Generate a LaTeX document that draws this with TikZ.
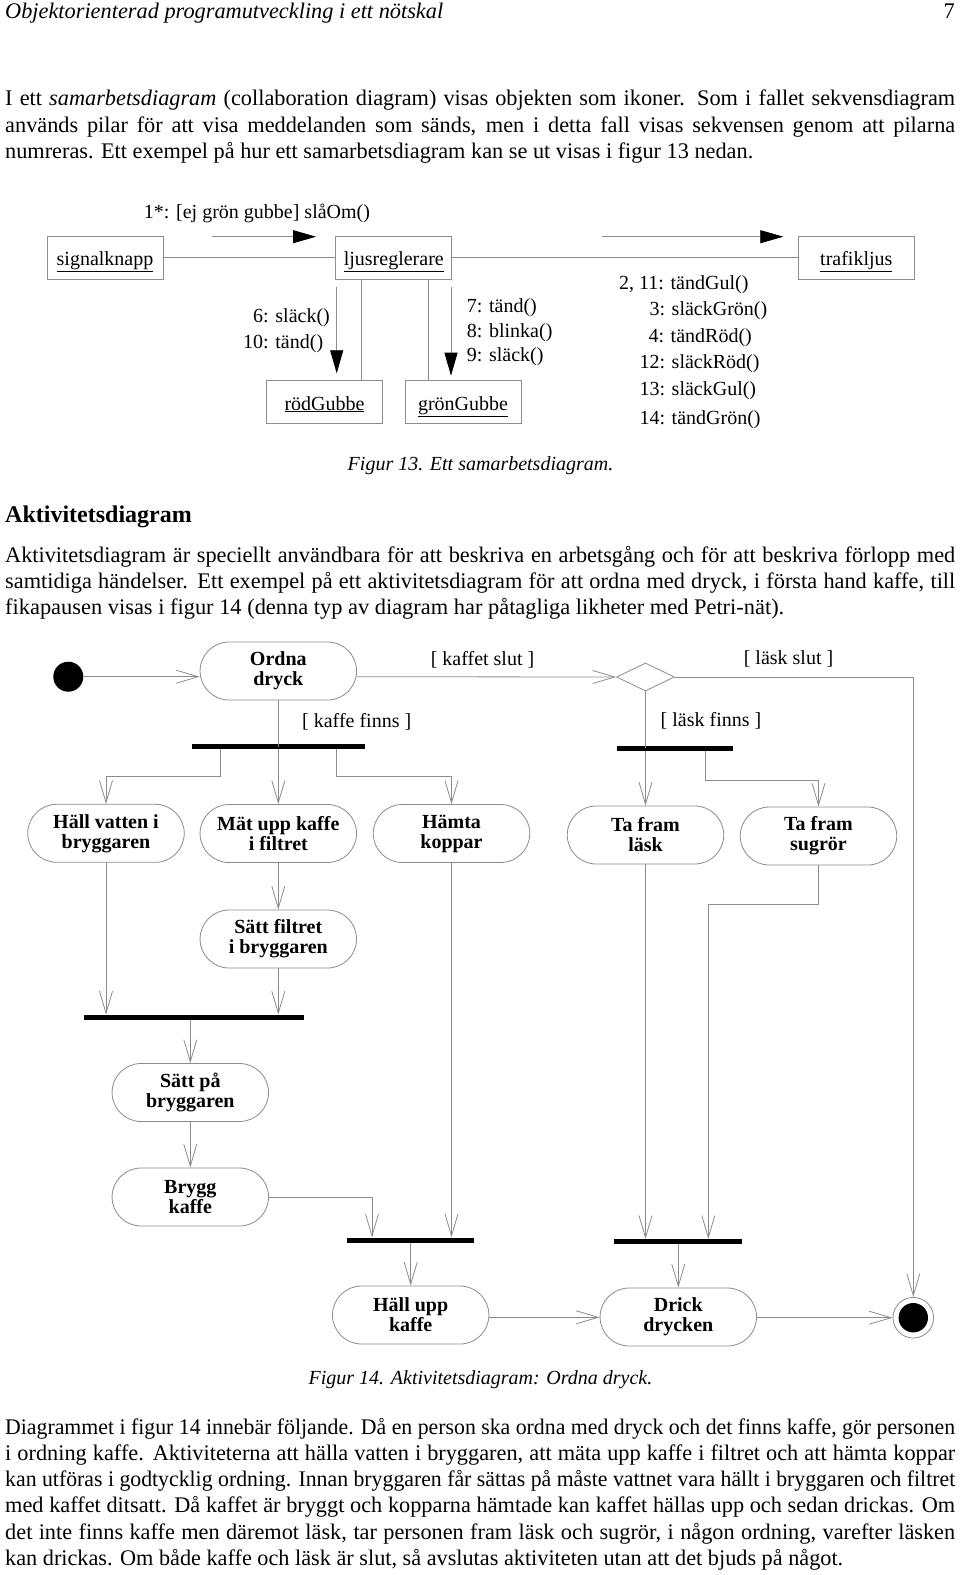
\documentclass[tikz,border=0pt]{standalone}
\usepackage{fontspec}
\setmainfont{Liberation Serif}
\usepackage{graphicx}
\usetikzlibrary{arrows.meta,shapes.geometric}
\definecolor{linegray}{gray}{0.55}
\newsavebox\jlbox
\newcommand\jline[1]{\sbox\jlbox{#1}\ifdim\wd\jlbox>950pt\relax\resizebox{950pt}{\height}{\usebox\jlbox}\else\makebox[950pt][s]{#1}\fi}
\newcommand\wline[2]{\resizebox{#1}{\height}{#2}}
\begin{document}
\begin{tikzpicture}[x=1pt,y=-1pt,
  body/.style={anchor=mid west, inner sep=0, yshift=-5.5pt, font=\fontsize{22.3}{26.4}\selectfont},
  lbl/.style={inner sep=0, font=\fontsize{20}{24}\selectfont},
  lblw/.style={lbl, anchor=mid west, yshift=-3.5pt},
  figcap/.style={inner sep=0, yshift=-3pt, font=\fontsize{20}{24}\selectfont\itshape},
  obj/.style={draw=linegray, line width=0.8pt, minimum width=116pt, minimum height=43pt, inner sep=0, text height=18pt, text depth=2pt, font=\fontsize{20}{24}\selectfont},
  act/.style={draw=linegray, line width=0.8pt, rounded corners=29pt, minimum width=156.5pt, minimum height=58pt, inner sep=0, align=center, font=\fontsize{20}{20}\selectfont\bfseries},
  bar/.style={fill=black, inner sep=0, minimum height=5pt},
  flow/.style={draw=linegray, line width=0.8pt},
  arr/.style={flow, -{Straight Barb[length=22pt,width=13pt]}},
  msg/.style={draw=linegray, line width=0.8pt, -{Triangle[length=23pt,width=13pt,color=black]}}]
\fill[white] (0,0) rectangle (960,1575);
\useasboundingbox (0,0) rectangle (960,1575);

% header
\node[body] (hdr) at (5,10.5) {\wline{438pt}{\itshape Objektorienterad programutveckling i ett nötskal}};
\node[body, anchor=mid east] (pg) at (955,10.5) {7};

% paragraph 1
\node[body] (p1a) at (5,97.4) {\jline{I ett \textit{samarbetsdiagram} (collaboration diagram) visas objekten som ikoner. Som i fallet sekvensdiagram}};
\node[body] (p1b) at (5,124.6) {\jline{används pilar för att visa meddelanden som sänds, men i detta fall visas sekvensen genom att pilarna}};
\node[body] (p1c) at (5,150.7) {\wline{748pt}{numreras. Ett exempel på hur ett samarbetsdiagram kan se ut visas i figur 13 nedan.}};

% figure 13
\node[obj] (sig) at (105,257.5) {\underline{signalknapp}};
\node[obj] (ljus) at (393.8,257.5) {\underline{ljusreglerare}};
\node[obj] (traf) at (856.3,257.5) {\underline{trafikljus}};
\node[obj] (rod) at (324.5,402) {\underline{rödGubbe}};
\node[obj] (gron) at (463,402) {\underline{grönGubbe}};
\draw[flow] (sig) -- (ljus);
\draw[flow] (ljus) -- (traf);
\coordinate (k1) at (361.7,330);
\coordinate (k2) at (428.3,330);
\draw[flow] (ljus.south -| k1) -- (rod.north -| k1);
\draw[flow] (ljus.south -| k2) -- (gron.north -| k2);
\coordinate (m1a) at (212,236.7); \coordinate (m1b) at (316,236.7);
\coordinate (m2a) at (601.7,236.7); \coordinate (m2b) at (783.3,236.7);
\coordinate (m3a) at (336.7,287.3); \coordinate (m3b) at (336.7,373.3);
\coordinate (m4a) at (451,287.3); \coordinate (m4b) at (451,375.7);
\draw[msg] (m1a) -- (m1b);
\draw[msg] (m2a) -- (m2b);
\draw[msg] (m3a) -- (m3b);
\draw[msg] (m4a) -- (m4b);
\node[lbl] (t1) at (257,213) {1*: [ej grön gubbe] slåOm()};
\node[lblw] (t6) at (253,316.7) {6: släck()};
\node[lblw] (t10) at (243,343) {10: tänd()};
\node[lblw] (t7) at (466.7,306.7) {7: tänd()};
\node[lblw] (t8) at (466.7,331.7) {8: blinka()};
\node[lblw] (t9) at (466.7,355.7) {9: släck()};
\node[lblw] (t2) at (619,283.3) {2, 11: tändGul()};
\node[lblw] (t3) at (649.3,310) {3: släckGrön()};
\node[lblw] (t4) at (648.3,336.7) {4: tändRöd()};
\node[lblw] (t12) at (639.3,363) {12: släckRöd()};
\node[lblw] (t13) at (639.3,390) {13: släckGul()};
\node[lblw] (t14) at (639.3,418.3) {14: tändGrön()};
\node[figcap] (cap13) at (480.5,463) {Figur 13. Ett samarbetsdiagram.};

% heading and paragraph 2
\node[anchor=mid west, inner sep=0, yshift=-6pt, font=\fontsize{24}{28}\selectfont\bfseries] (h2) at (5,514.3) {Aktivitetsdiagram};
\node[body] (p2a) at (5,554.5) {\jline{Aktivitetsdiagram är speciellt användbara för att beskriva en arbetsgång och för att beskriva förlopp med}};
\node[body] (p2b) at (5,580.6) {\jline{samtidiga händelser. Ett exempel på ett aktivitetsdiagram för att ordna med dryck, i första hand kaffe, till}};
\node[body] (p2c) at (5,606.7) {\wline{779pt}{fikapausen visas i figur 14 (denna typ av diagram har påtagliga likheter med Petri-nät).}};

% figure 14
\node[circle, fill=black, minimum size=30pt, inner sep=0] (start) at (68.3,676.7) {};
\node[act] (ordna) at (278.3,671) {Ordna\\dryck};
\node[diamond, draw=linegray, line width=0.8pt, minimum width=58pt, minimum height=28pt, inner sep=0] (dia) at (645.5,677) {};
\node[bar, minimum width=173.3pt] (b1) at (278.35,746.7) {};
\node[bar, minimum width=116.6pt] (bL) at (675,748.3) {};
\node[bar, minimum width=219.7pt] (j1) at (194.15,1017.3) {};
\node[bar, minimum width=126.7pt] (j2) at (410.65,1240) {};
\node[bar, minimum width=127.4pt] (j3) at (678,1241.7) {};
\node[act] (hall) at (106,833.3) {Häll vatten i\\bryggaren};
\node[act] (mat) at (278.3,833.5) {Mät upp kaffe\\i filtret};
\node[act] (hamta) at (451.5,833.5) {Hämta\\koppar};
\node[act] (lask) at (645.5,835) {Ta fram\\läsk};
\node[act] (sugror) at (818.5,836) {Ta fram\\sugrör};
\node[act] (filtret) at (278.3,939) {Sätt filtret\\i bryggaren};
\node[act] (sattpa) at (190.3,1092.5) {Sätt på\\bryggaren};
\node[act] (brygg) at (190.3,1197) {Brygg\\kaffe};
\node[act] (hallupp) at (410.7,1315) {Häll upp\\kaffe};
\node[act] (drick) at (678.3,1317) {Drick\\drycken};
\node[circle, draw=linegray, line width=0.8pt, minimum size=40.6pt, inner sep=0] (final) at (913.3,1317.7) {};
\node[circle, fill=black, minimum size=29.4pt, inner sep=0] (finalin) at (final) {};

\draw[arr] (start) -- (ordna.west |- start);
\draw[arr] (ordna.east |- start) -- (dia.west);
\draw[arr] (dia.east) -| (final.north);
\draw[flow] (dia.south) -- (dia.south |- bL.center);
\draw[arr] (bL.south -| dia.south) -- (lask.north);
\coordinate (c1) at (705,780);
\draw[arr] (bL.south -| c1) -- (c1) -| (sugror.north);
\draw[flow] (ordna.south) -- (ordna.south |- b1.center);
\coordinate (c2) at (220,776.7);
\coordinate (c3) at (336,776.7);
\draw[arr] (b1.south -| c2) -- (c2) -| (hall.north);
\draw[arr] (b1.south -| mat.north) -- (mat.north);
\draw[arr] (b1.south -| c3) -- (c3) -| (hamta.north);
\draw[arr] (hall.south) -- (hall.south |- j1.north);
\draw[arr] (mat.south) -- (filtret.north);
\draw[arr] (filtret.south) -- (filtret.south |- j1.north);
\draw[arr] (j1.south -| sattpa.north) -- (sattpa.north);
\draw[arr] (sattpa.south) -- (brygg.north);
\coordinate (c4) at (372,1197.3);
\draw[arr] (brygg.east |- c4) -- (c4) -- (c4 |- j2.north);
\draw[arr] (hamta.south) -- (hamta.south |- j2.north);
\draw[arr] (j2.south -| hallupp.north) -- (hallupp.north);
\coordinate (c5) at (500,1317.3);
\draw[arr] (hallupp.east |- c5) -- (drick.west |- c5);
\draw[arr] (lask.south) -- (lask.south |- j3.north);
\coordinate (c6) at (708.3,904);
\draw[arr] (sugror.south) |- (c6) -- (c6 |- j3.north);
\draw[arr] (j3.south -| drick.north) -- (drick.north);
\draw[arr] (drick.east |- final) -- (final.west);

\node[lbl] (g1) at (482.5,659.6) {[ kaffet slut ]};
\node[lbl] (g2) at (788.5,659.3) {[ läsk slut ]};
\node[lbl] (g3) at (356.7,721.7) {[ kaffe finns ]};
\node[lbl] (g4) at (711,721) {[ läsk finns ]};
\node[figcap] (cap14) at (480.5,1377) {Figur 14. Aktivitetsdiagram: Ordna dryck.};

% paragraph 3
\node[body] (p3a) at (5,1426.4) {\jline{Diagrammet i figur 14 innebär följande. Då en person ska ordna med dryck och det finns kaffe, gör personen}};
\node[body] (p3b) at (5,1452.5) {\jline{i ordning kaffe. Aktiviteterna att hälla vatten i bryggaren, att mäta upp kaffe i filtret och att hämta koppar}};
\node[body] (p3c) at (5,1478.6) {\jline{kan utföras i godtycklig ordning. Innan bryggaren får sättas på måste vattnet vara hällt i bryggaren och filtret}};
\node[body] (p3d) at (5,1504.7) {\jline{med kaffet ditsatt. Då kaffet är bryggt och kopparna hämtade kan kaffet hällas upp och sedan drickas. Om}};
\node[body] (p3e) at (5,1531.9) {\jline{det inte finns kaffe men däremot läsk, tar personen fram läsk och sugrör, i någon ordning, varefter läsken}};
\node[body] (p3f) at (5,1558) {\wline{838pt}{kan drickas. Om både kaffe och läsk är slut, så avslutas aktiviteten utan att det bjuds på något.}};
\end{tikzpicture}
\end{document}
